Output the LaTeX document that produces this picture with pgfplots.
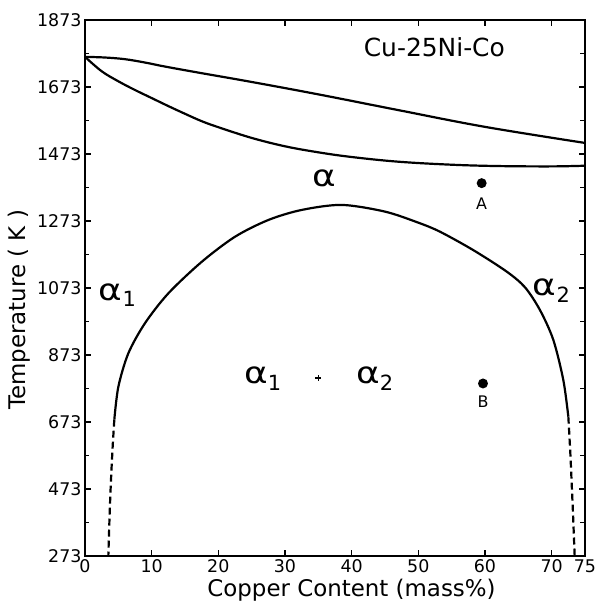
\documentclass[border=0pt]{standalone}
\usepackage{fontspec}
\setmainfont{DejaVu Sans}
\usepackage{pgfplots}
\pgfplotsset{compat=1.18}
\usetikzlibrary{calc}
\newcommand{\al}{\scalebox{1.2}[1]{α}}
\begin{document}
\begin{tikzpicture}
\begin{axis}[
    scale only axis,
    width=500bp, height=536bp,
    xmin=0, xmax=75, ymin=273, ymax=1873,
    xtick={0,10,20,30,40,50,60,70,75},
    ytick={273,473,673,873,1073,1273,1473,1673,1873},
    minor y tick num=1,
    tick align=inside,
    major tick length=6bp, minor tick length=4.5bp,
    every tick/.style={black, line width=1.2bp},
    axis line style={line width=1.7bp},
    /pgf/number format/assume math mode=true,
    /pgf/number format/set thousands separator={},
    tick label style={font=\fontsize{17.5}{17.5}\selectfont},
    label style={font=\fontsize{23}{24}\selectfont},
    xlabel={Copper Content (mass\%)},
    ylabel={Temperature ( K )},
    xlabel style={at={(ticklabel cs:0.533)}},
    ylabel style={at={(ticklabel cs:0.459)}},
    every axis plot/.append style={black, line width=2.2bp},
]
% liquidus
\addplot[smooth, tension=0.6] coordinates {
    (0,1763) (3,1761) (6,1756) (9,1746) (12,1734) (17,1716) (25,1688)
    (35,1651) (47,1604) (60,1554) (75,1506)
};
% solidus
\addplot[smooth, tension=0.6] coordinates {
    (0,1763) (2.5,1720) (5,1690) (7.5,1664) (10,1640) (12.5,1616) (15,1593)
    (17.5,1571) (20,1553) (25,1521) (30,1496) (35,1478) (40,1464) (47,1450)
    (55,1441) (62,1437) (70,1436) (75,1438)
};
% miscibility gap
\addplot[smooth, tension=0.5] coordinates {
    (4.4,680) (5.0,778) (6.5,878) (9.0,968) (12.5,1057) (17.5,1151)
    (22.5,1226) (27.5,1276) (32.5,1306) (38.5,1321) (45,1301) (50,1268)
    (53.25,1241) (58.25,1186) (63.25,1122) (66,1075) (68.25,1007)
    (70.25,918) (71.75,798) (72.5,689)
};
\addplot[smooth, dash pattern=on 7bp off 4bp] coordinates {
    (4.4,680) (4.15,600) (3.9,500) (3.7,400) (3.5,273)
};
\addplot[smooth, dash pattern=on 7bp off 4bp] coordinates {
    (72.5,689) (72.8,580) (73.0,490) (73.2,400) (73.45,273)
};
% specimens A and B
\addplot[only marks, mark=*, mark size=3.8bp] coordinates {(59.5,1386) (59.7,788)};
\addplot[only marks, mark=+, mark size=3bp, line width=1.5bp] coordinates {(35,804)};

\node[font=\fontsize{25}{25}\selectfont, anchor=west] at (axis cs:41.3,1792) {Cu-25Ni-Co};
\node[font=\fontsize{16}{16}\selectfont] at (axis cs:59.5,1326) {A};
\node[font=\fontsize{16}{16}\selectfont] at (axis cs:59.7,733) {B};
\node[font=\fontsize{30}{30}\selectfont] at (axis cs:35.9,1400) {\al};
\node[font=\fontsize{30}{30}\selectfont] at (axis cs:4.9,1052) {\al\textsubscript{1}};
\node[font=\fontsize{30}{30}\selectfont] at (axis cs:70,1066) {\al\textsubscript{2}};
\node[font=\fontsize{30}{30}\selectfont] at (axis cs:26.7,802) {\al\textsubscript{1}};
\node[font=\fontsize{30}{30}\selectfont] at (axis cs:43.5,802) {\al\textsubscript{2}};

\coordinate (sw) at (rel axis cs:0,0);
\coordinate (ne) at (rel axis cs:1,1);
\end{axis}
\pgfresetboundingbox
\path ($(sw)+(-85bp,-52bp)$) rectangle ($(ne)+(13bp,20bp)$);
\end{tikzpicture}
\end{document}
